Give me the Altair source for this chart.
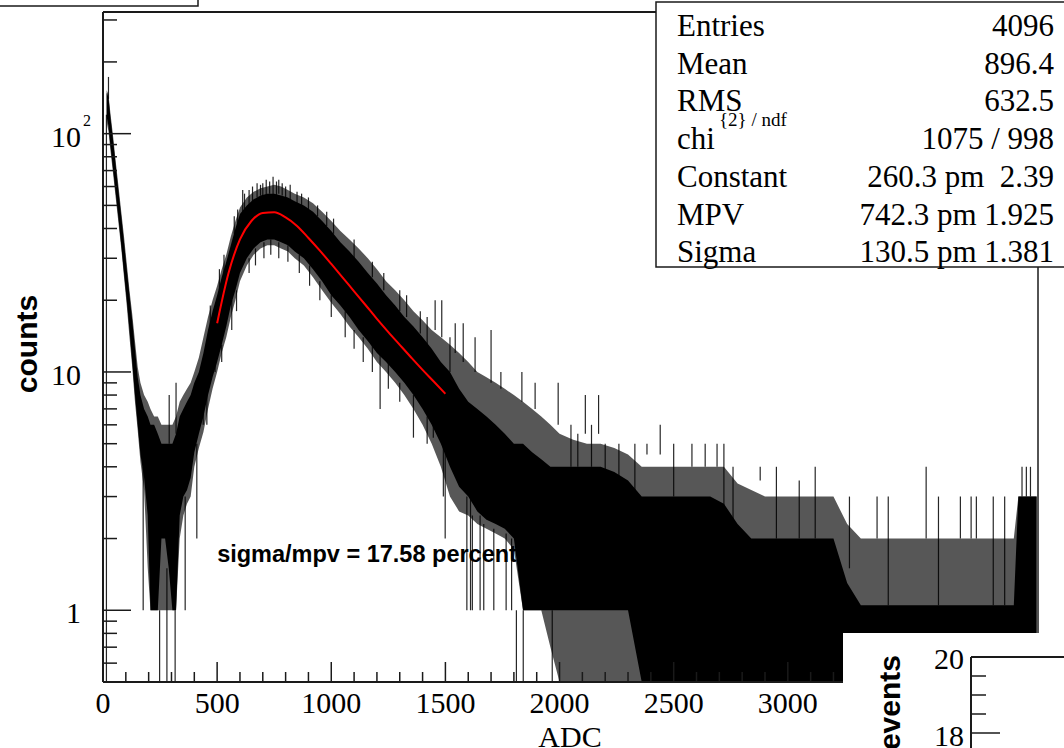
import altair as alt
import pandas as pd

# ---------------- data ----------------
# histogram envelope (ADC bins): dense solid core and sparser "comb" region
hist_x = [16, 24, 32, 44, 56, 68, 80, 92, 104, 116, 128, 140, 152, 164, 180, 196,
          208, 224, 240, 256, 272, 288, 304, 320, 336, 352, 368, 384, 400, 420, 440, 460,
          480, 500, 520, 540, 560, 580, 600, 630, 660, 690, 720, 750, 780, 810, 840, 880,
          920, 960, 1000, 1040, 1080, 1120, 1160, 1200, 1240, 1280, 1320, 1360, 1400, 1440,
          1480, 1520, 1560, 1600, 1640, 1680, 1720, 1760, 1800, 1840, 1880, 1920, 1960, 2000,
          2060, 2120, 2180, 2240, 2300, 2360, 2420, 2480, 2540, 2600, 2660, 2720, 2780, 2840,
          2900, 2960, 3020, 3080, 3140, 3200, 3260, 3320, 3500, 3700, 3900, 3990, 4010, 4090]
comb_lo = [112, 102, 86, 68, 53.5, 42, 33, 25, 19, 14, 10.5, 7.5, 5.7, 4.2, 3.2, 1.5,
           1, 1, 1, 1, 1, 1, 1, 1, 2, 2.5, 2.8, 3, 4, 4.8, 5.6, 7,
           8.5, 10, 12, 14, 17, 20, 24, 28, 31, 33, 34, 34, 33, 32, 30, 28,
           25, 22, 19.5, 17.5, 15.5, 14, 12.5, 11, 10, 9, 8, 7, 6, 5,
           4, 3, 2.6, 2.5, 2.3, 2.2, 2.1, 2, 1.8, 1, 1, 1, 0.7, 0.5,
           0.5, 0.5, 0.5, 0.5, 0.5, 0.5, 0.5, 0.5, 0.5, 0.5, 0.5, 0.5, 0.5, 0.5,
           0.5, 0.5, 0.5, 0.5, 0.5, 0.5, 0.5, 0.5, 0.5, 0.5, 0.5, 0.5, 0.5, 0.5]
core_lo = [118, 108, 90, 71, 56, 44, 34, 26, 20, 15, 11, 8, 6, 4.5, 3.6, 2.5,
           1, 1, 1, 2, 2, 1.5, 1, 1, 2.5, 3, 3.2, 3.6, 4.6, 5.5, 6.5, 8,
           9.5, 11, 13, 15.5, 19, 22, 26, 30, 33, 35, 36, 36, 35, 34, 32, 30,
           27, 24, 21, 19, 17, 15, 13.5, 12, 11, 10, 9, 8, 7, 6,
           5, 4, 3.3, 3, 2.6, 2.4, 2.3, 2.2, 2, 1, 1, 1, 1, 1,
           1, 1, 1, 1, 1, 0.5, 0.5, 0.5, 0.5, 0.5, 0.5, 0.5, 0.5, 0.5,
           0.5, 0.5, 0.5, 0.5, 0.5, 0.5, 0.5, 0.5, 0.5, 0.5, 0.5, 0.5, 0.8, 0.8]
core_hi = [148, 142, 118, 94, 73, 57, 45, 35, 27, 21, 16.5, 12.5, 9.5, 8, 7, 6.5,
           6, 6, 5.5, 5, 5, 5, 5, 5.5, 6.5, 7, 7.5, 8, 9, 10, 12, 15,
           18, 21, 25, 29, 34, 40, 46, 50, 53, 55, 56, 56, 55, 54, 52, 50,
           47, 43, 39, 35, 32, 29, 26, 23.5, 21, 19, 17, 15.5, 14, 12.5,
           11, 10, 8.5, 7.5, 7, 6.5, 6, 5.5, 5, 5, 4.6, 4.3, 4, 4,
           4, 4, 4, 3.8, 3.5, 3, 3, 3, 3, 3, 3, 2.8, 2.3, 2,
           2, 2, 2, 2, 2, 2, 1.3, 1.05, 1.05, 1.05, 1.05, 1.05, 3, 3]
comb_hi = [152, 146, 123, 98, 76, 60, 47, 37, 28.5, 22, 17.5, 13.5, 10.5, 9, 8, 7.5,
           7, 6.5, 6.5, 6, 6, 6, 6, 6.5, 7.5, 8, 8.5, 9, 10, 11.5, 14, 17,
           20, 23, 27, 31, 37, 43, 49, 54, 57, 59, 60, 61, 60, 58, 56, 54,
           51, 47, 43, 39, 36, 33, 30, 27, 24, 22, 20, 18, 16.5, 15,
           14, 13, 12, 11, 10, 9.5, 9, 8.5, 8, 7.5, 7, 6.5, 6, 5.5,
           5.2, 5, 5, 4.8, 4.5, 4, 4, 4, 4, 4, 4, 4, 3.4, 3.2,
           3, 3, 3, 3, 3, 3, 2.3, 2, 2, 2, 2, 2, 3, 3]

# isolated spikes (ADC, from, to)
spike_x = [15, 24, 176, 248, 280, 316, 360, 290, 320, 411, 439, 491, 564, 612, 700, 745,
           760, 800, 1061, 1140, 1214, 1360, 1447, 1455, 1484, 1491, 1499, 1543, 1578,
           1594, 1610, 1630, 1652, 1700, 1743, 1811, 1835, 1841, 1893, 1968, 1994, 2113,
           2171, 2383, 2441, 2580, 2638, 2690, 2879, 3391, 3606, 3756, 3803, 3826, 4026,
           4045, 4063,
           470, 510, 530, 575, 590, 620, 640, 655, 675, 690, 715, 730, 770, 785, 820, 850,
           870, 900, 940, 980, 1010, 1100, 1180, 1230, 1300, 1330, 1390, 1420, 1520,
           455, 520, 585, 640, 668, 705, 735, 770, 810, 860, 905, 950, 1000, 1100, 1180,
           1250, 1300, 1420,
           2050, 2080, 2140, 2200, 2260, 2330, 2500, 2720, 2760, 2950, 3050, 3120, 3270,
           3440, 3660, 3900, 3950, 1618, 1668, 1712, 1766, 1790]
spike_lo = [0.5, 140, 1, 0.5, 0.5, 0.5, 1, 5, 5.5, 2, 6, 10, 15, 46, 54, 55,
            55, 53, 14, 11, 7, 5.3, 5.3, 15, 14, 3, 2, 12, 11,
            1, 1, 10, 1, 9, 8.5, 0.5, 7.5, 0.5, 7, 0.5, 6, 5.5,
            5.5, 4.5, 4.5, 4, 4, 4, 3.5, 2, 2, 2, 2, 2, 3,
            3, 3,
            15, 22, 26, 38, 42, 48, 50, 52, 54, 55, 55, 56, 56, 55, 53, 51,
            50, 48, 45, 41, 38, 30, 25, 22, 18, 17, 14.5, 13, 10,
            6, 11, 18, 26, 28, 30, 31, 30, 29, 26, 23, 20, 17, 12.5, 10,
            8.5, 7.5, 5,
            4, 4, 4, 3.8, 3.5, 3.2, 3, 2.5, 2.4, 2, 2, 2, 1.5,
            1.05, 1.05, 1.05, 1.05, 1, 1, 1, 1, 1]
spike_hi = [120, 173, 4, 1, 1.5, 1, 3, 8, 9, 5, 7, 12, 20, 58, 62, 66,
            63, 60, 18, 14, 12, 8, 6, 20, 20, 5, 5, 16, 16,
            3, 3, 14, 2.5, 15, 10, 1, 10, 1, 9, 1, 9, 8,
            8, 5, 6, 5, 5, 5, 4, 3, 4, 3, 3, 3, 4,
            4, 4,
            19, 27, 31, 45, 48, 56, 58, 60, 62, 61, 64, 63, 64, 62, 61, 57,
            56, 54, 50, 47, 44, 36, 29, 26, 22, 21, 18, 17, 14,
            8, 13, 22, 30, 33, 35, 36, 35, 34, 31, 28, 24, 21, 15, 13,
            11, 9, 6.5,
            6, 5.5, 6, 5, 5, 5, 5, 5, 4, 4, 3.5, 4, 3,
            3, 3, 3, 3, 2.5, 2.3, 2.2, 2.1, 2]

# Landau fit curve
fit_x = [500, 550, 600, 650, 700, 750, 800, 850, 900, 950, 1000, 1050, 1100, 1150,
         1200, 1250, 1300, 1350, 1400, 1450, 1500]
fit_y = [16.0, 26.0, 36.0, 43.0, 46.5, 46.8, 44.5, 41.0, 36.5, 32.3, 28.4, 24.9, 21.8,
         19.1, 16.7, 14.7, 13.0, 11.5, 10.2, 9.1, 8.1]

x_major = [0, 500, 1000, 1500, 2000, 2500, 3000, 3500, 4000]
x_minor = [v for v in range(100, 4100, 100) if v % 500 != 0]
y_major = [1, 10, 100]
y_minor = [0.6, 0.7, 0.8, 0.9, 2, 3, 4, 5, 6, 7, 8, 9, 20, 30, 40, 50, 60, 70, 80, 90, 200, 300]
y_labels = ["1", "10", "10"]

stats_labels = ["Entries", "Mean", "RMS", "chi", "Constant", "MPV", "Sigma"]
stats_values = ["4096", "896.4", "632.5", "1075 / 998", "260.3 pm\u00a0\u00a02.39",
                "742.3 pm 1.925", "130.5 pm 1.381"]

# ---------------- chart ----------------
W, H = 935, 670
SERIF = "Liberation Serif"
SANS = "Liberation Sans"
INK = "#1a1a1a"

xs = alt.Scale(domain=[0, 4096], nice=False, zero=False)
ys = alt.Scale(type="log", domain=[0.5, 324], nice=False)

hist = pd.DataFrame({"x": hist_x, "clo": comb_lo, "lo": core_lo, "hi": core_hi, "chi": comb_hi})
spk = pd.DataFrame({"x": spike_x, "lo": spike_lo, "hi": spike_hi})
fit = pd.DataFrame({"x": fit_x, "y": fit_y})

one = alt.Data(values=[{}])


def txt(s, x, y, size, font=SERIF, weight="normal", align="left", baseline="alphabetic", angle=None):
    kw = dict(text=s, fontSize=size, font=font, fontWeight=weight, align=align,
              baseline=baseline, color="black")
    if angle is not None:
        kw["angle"] = angle
    return alt.Chart(one).mark_text(**kw).encode(x=alt.value(x), y=alt.value(y))


def rule(x1, y1, x2, y2, w=1.5, color=INK):
    return alt.Chart(one).mark_rule(color=color, strokeWidth=w).encode(
        x=alt.value(x1), y=alt.value(y1), x2=alt.value(x2), y2=alt.value(y2))


def box(x1, y1, x2, y2, stroke=INK, w=1.5):
    kw = dict(fill="white")
    if stroke:
        kw.update(stroke=stroke, strokeWidth=w)
    return alt.Chart(one).mark_rect(**kw).encode(
        x=alt.value(x1), y=alt.value(y1), x2=alt.value(x2), y2=alt.value(y2))


X = lambda f: alt.X(f, scale=xs, axis=None)
Y = lambda f: alt.Y(f, scale=ys, axis=None)

comb = alt.Chart(hist).mark_area(color="#000", opacity=0.66, clip=True, interpolate="linear").encode(
    x=X("x:Q"), y=Y("clo:Q"), y2="chi:Q")
core = alt.Chart(hist).mark_area(color="#000", clip=True, interpolate="linear").encode(
    x=X("x:Q"), y=Y("lo:Q"), y2="hi:Q")
spikes = alt.Chart(spk).mark_rule(color="#000", strokeWidth=1.2, opacity=0.85, clip=True).encode(
    x=X("x:Q"), y=Y("lo:Q"), y2="hi:Q")
fitline = alt.Chart(fit).mark_line(color="#ff0000", strokeWidth=2, interpolate="monotone", clip=True).encode(
    x=X("x:Q"), y=Y("y:Q"))

note = alt.Chart(alt.Data(values=[{"x": 500, "y": 1.6}])).mark_text(
    text="sigma/mpv = 17.58 percent", font=SANS, fontWeight="bold", fontSize=23.5,
    align="left", baseline="alphabetic", color="black").encode(x=X("x:Q"), y=Y("y:Q"))

# ticks (inside the frame, ROOT style)
xmaj = alt.Chart(pd.DataFrame({"v": x_major})).mark_rule(color=INK, strokeWidth=1.5).encode(
    x=X("v:Q"), y=alt.value(H), y2=alt.value(H - 20))
xmin = alt.Chart(pd.DataFrame({"v": x_minor})).mark_rule(color=INK, strokeWidth=1.5).encode(
    x=X("v:Q"), y=alt.value(H), y2=alt.value(H - 10))
ymaj = alt.Chart(pd.DataFrame({"v": y_major})).mark_rule(color=INK, strokeWidth=1.5).encode(
    y=Y("v:Q"), x=alt.value(0), x2=alt.value(28))
ymin = alt.Chart(pd.DataFrame({"v": y_minor})).mark_rule(color=INK, strokeWidth=1.5).encode(
    y=Y("v:Q"), x=alt.value(0), x2=alt.value(14))

xlab = alt.Chart(pd.DataFrame({"v": x_major, "t": [str(v) for v in x_major]})).mark_text(
    font=SERIF, fontSize=30, align="center", baseline="alphabetic", color="black").encode(
    x=X("v:Q"), y=alt.value(701), text="t:N")
ylab = alt.Chart(pd.DataFrame({"v": y_major, "t": y_labels})).mark_text(
    font=SERIF, fontSize=30, align="right", baseline="middle", dy=4, color="black").encode(
    y=Y("v:Q"), x=alt.value(-22), text="t:N")
ysup = alt.Chart(pd.DataFrame({"v": [100], "t": ["2"]})).mark_text(
    font=SERIF, fontSize=16, align="left", baseline="middle", dy=-13, color="black").encode(
    y=Y("v:Q"), x=alt.value(-20), text="t:N")

frame = [
    rule(0, 0, W, 0, 2),
    rule(0, 0, 0, H, 2),
    rule(0, H, W, H, 2),
    rule(W, 0, W, H, 1.5),
]

# inset pad (bottom right)
inset = [
    box(740, 621, 990, 760, stroke=None),
    rule(868, 645, 990, 645, 2),
    rule(868, 645, 868, 760, 2),
    rule(868, 664, 883, 664),
    rule(868, 683, 883, 683),
    rule(868, 702, 883, 702),
    rule(868, 721, 897, 721),
    txt("20", 861, 657, 30, align="right"),
    txt("18", 861, 734, 30, align="right"),
    txt("events", 797, 643, 30, font=SANS, weight="bold", align="right", angle=270),
]

# stats box
stats = [box(553, -10, 990, 255)]
for i, (lab, val) in enumerate(zip(stats_labels, stats_values)):
    yb = 24 + i * 37.7
    stats.append(txt(lab, 574, yb, 31))
    stats.append(txt(val, 951, yb, 31, align="right"))
stats.append(txt("{2} / ndf", 616, 114, 19))

topleft = [box(-110, -20, 95, -6)]

titles = [
    txt("counts", -66, 332, 30, font=SANS, weight="bold", align="center", angle=270),
    txt("ADC", 467, 735, 30, align="center"),
]

layers = [comb, core, spikes, fitline, note, xmaj, xmin, ymaj, ymin] + frame + [xlab, ylab, ysup] \
    + inset + stats + topleft + titles

chart = alt.layer(*layers).properties(
    width=W, height=H,
    padding={"left": 103, "top": 12, "right": 26, "bottom": 66},
    autosize=alt.AutoSizeParams(type="none"),
    background="white",
).configure_view(strokeWidth=0)

chart.save("out.html", embed_options={"renderer": "svg", "actions": False})
